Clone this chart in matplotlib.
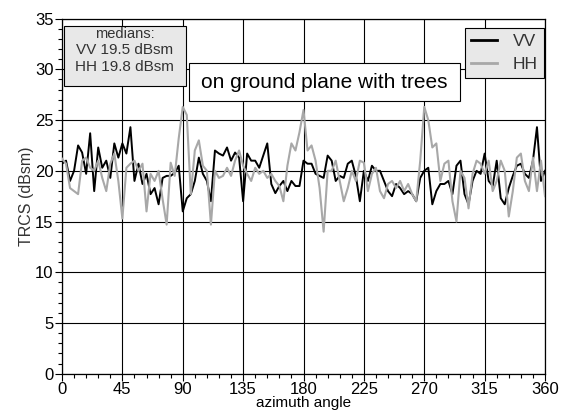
import matplotlib
matplotlib.use("Agg")
import matplotlib.pyplot as plt
from matplotlib.patches import Rectangle
import numpy as np

plt.rcParams['font.family'] = ['Liberation Sans', 'DejaVu Sans']

azimuth = list(range(0, 361, 3))

vv = [20.7, 21.0, 19.0, 20.0, 22.5, 21.8, 19.7, 23.7, 18.0, 22.3,
      20.3, 21.0, 19.3, 22.7, 21.3, 22.7, 21.7, 24.3, 19.0, 20.7,
      18.7, 19.7, 17.7, 18.3, 16.7, 19.3, 19.5, 19.5, 19.8, 20.5,
      16.0, 17.3, 17.7, 19.0, 21.3, 19.7, 19.0, 17.0, 22.0, 21.7,
      21.5, 22.3, 21.0, 21.8, 21.3, 17.0, 21.7, 21.0, 21.0, 20.3,
      21.5, 22.7, 18.7, 17.8, 18.5, 19.0, 18.0, 19.0, 18.5, 18.5,
      21.0, 20.7, 20.7, 19.7, 19.5, 19.3, 21.5, 21.0, 19.0, 19.5,
      19.3, 20.7, 21.0, 19.5, 17.0, 20.0, 19.0, 20.5, 20.0, 20.0,
      19.0, 18.0, 17.5, 18.7, 18.3, 17.7, 18.0, 17.7, 17.0, 19.3,
      20.0, 20.3, 16.7, 18.0, 18.7, 18.7, 19.0, 17.7, 20.5, 21.0,
      17.7, 16.7, 19.0, 20.0, 19.7, 21.7, 19.0, 18.5, 21.0, 17.3,
      16.7, 18.3, 19.5, 20.5, 20.7, 19.7, 19.3, 21.0, 24.3, 19.0,
      20.0]

hh = [21.2, 20.7, 18.3, 18.0, 17.7, 21.0, 21.3, 20.3, 20.0, 21.0,
      19.3, 18.0, 20.7, 21.7, 19.0, 15.3, 20.3, 20.7, 21.0, 20.0,
      20.7, 16.0, 19.7, 19.0, 20.0, 17.2, 14.7, 20.8, 19.5, 23.2,
      26.3, 25.5, 17.7, 22.0, 23.0, 20.5, 20.0, 14.7, 20.0, 19.3,
      19.5, 20.3, 19.5, 21.0, 22.0, 20.5, 19.7, 19.0, 20.3, 19.7,
      20.0, 19.3, 19.7, 19.0, 18.5, 17.0, 20.5, 22.7, 22.0, 23.8,
      26.0, 22.0, 22.5, 21.0, 18.3, 14.0, 20.0, 20.0, 21.0, 19.0,
      17.0, 18.3, 20.0, 19.0, 21.0, 20.8, 18.0, 19.7, 20.3, 18.0,
      17.3, 18.7, 19.0, 18.3, 19.0, 18.0, 18.7, 17.7, 17.0, 21.0,
      26.3, 25.0, 22.3, 22.7, 19.0, 20.7, 21.0, 17.0, 15.0, 20.0,
      19.3, 16.3, 19.7, 21.0, 20.7, 19.7, 21.0, 18.0, 19.0, 21.0,
      20.0, 15.5, 18.0, 21.3, 21.7, 19.0, 18.0, 21.3, 18.0, 21.0,
      17.5]

series_names = ["VV", "HH"]
median_vv = 19.5
median_hh = 19.8
xticks = [0, 45, 90, 135, 180, 225, 270, 315, 360]
yticks = [0, 5, 10, 15, 20, 25, 30, 35]

fig = plt.figure(figsize=(5.61, 4.13), dpi=100)
ax = fig.add_axes([0.1105, 0.095, 0.861, 0.86])

ax.plot(azimuth, vv, color="black", lw=1.4, label=series_names[0], zorder=3)
ax.plot(azimuth, hh, color="#a8a8a8", lw=1.5, label=series_names[1], zorder=4)

ax.set_xlim(0, 360)
ax.set_ylim(0, 35)
ax.set_xticks(xticks)
ax.set_yticks(yticks)
ax.set_xticks(np.arange(0, 361, 9), minor=True)
ax.set_yticks(np.arange(0, 36, 1), minor=True)
ax.tick_params(axis="both", which="major", direction="out", length=5, width=0.8,
               labelsize=12, pad=1)
ax.tick_params(axis="both", which="minor", direction="out", length=3, width=0.8)
ax.grid(True, which="major", color="black", lw=0.8, zorder=1)
for s in ax.spines.values():
    s.set_linewidth(0.9)

ax.set_xlabel("azimuth angle", fontsize=11, labelpad=-1)
ax.set_ylabel("TRCS (dBsm)", fontsize=11.5, color="#333333", labelpad=1)

# medians box
ax.add_patch(Rectangle((0.004, 0.811), 0.253, 0.169, transform=ax.transAxes,
                       fc="#e8e8e8", ec="black", lw=0.8, zorder=6))
med_lines = ["medians:", "VV %.1f dBsm" % median_vv, "HH %.1f dBsm" % median_hh]
for txt, yy in zip(med_lines, [0.958, 0.911, 0.863]):
    ax.text(0.13, yy, txt, transform=ax.transAxes, ha="center", va="center",
            fontsize=11 if txt != "medians:" else 10.5, color="#333333", zorder=7)

# title box
ax.add_patch(Rectangle((0.263, 0.769), 0.561, 0.107, transform=ax.transAxes,
                       fc="white", ec="black", lw=0.8, zorder=6))
ax.text(0.543, 0.821, "on ground plane with trees", transform=ax.transAxes,
        ha="center", va="center", fontsize=15, color="black", zorder=7)

leg = ax.legend(loc="upper right", bbox_to_anchor=(0.998, 0.974), fontsize=12.5,
                frameon=True, fancybox=False, handlelength=1.5, handletextpad=0.9,
                borderpad=0.35, labelspacing=0.45, borderaxespad=0)
leg.get_frame().set_facecolor("#e8e8e8")
leg.get_frame().set_edgecolor("black")
leg.get_frame().set_linewidth(0.8)
leg.get_frame().set_alpha(1)
for t in leg.get_texts():
    t.set_color("#333333")
for h in leg.get_lines():
    h.set_linewidth(2)
leg.set_zorder(7)

fig.savefig("out.png", dpi=100)
